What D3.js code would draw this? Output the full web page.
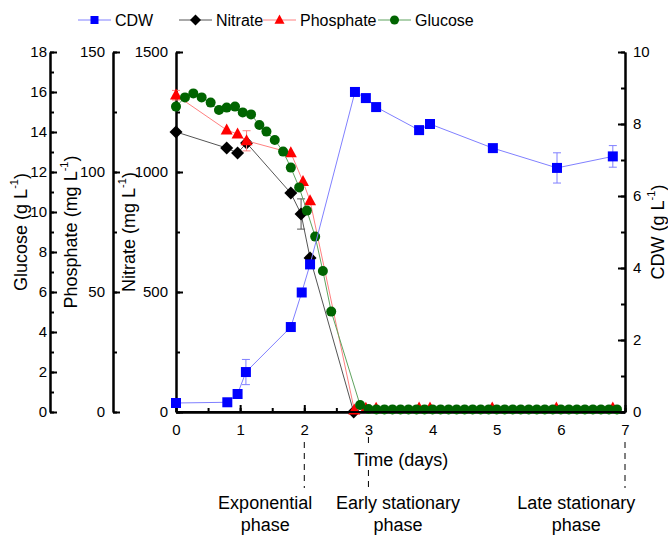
<!DOCTYPE html>
<html>
<head>
<meta charset="utf-8">
<script src="https://cdn.jsdelivr.net/npm/d3@7"></script>
<style>
  html, body { margin: 0; padding: 0; background: #fff; }
  svg { display: block; font-family: "Liberation Sans", Arial, sans-serif; }
</style>
</head>
<body>
<svg id="chart" width="668" height="536"></svg>
<script>
// ---------- DATA ----------
const cdwDays   = [0, 0.8, 0.96, 1.09, 1.79, 1.96, 2.09, 2.79, 2.96, 3.12, 3.79, 3.96, 4.94, 5.94, 6.81];
const cdwValues = [0.25, 0.27, 0.5, 1.11, 2.36, 3.32, 4.1, 8.89, 8.72, 8.47, 7.83, 8.0, 7.33, 6.78, 7.1];
const cdwErrors = [0.06, 0, 0, 0.35, 0.1, 0, 0, 0, 0.05, 0, 0, 0, 0, 0.42, 0.3];

const nitrateDays   = [0, 0.79, 0.96, 1.1, 1.79, 1.95, 2.09, 2.77];
const nitrateValues = [1167, 1100, 1079, 1121, 912, 825, 642, 0];
const nitrateErrors = [0, 0, 0, 0, 0, 63, 0, 0];

const phosphateDays   = [0, 0.79, 0.96, 1.1, 1.79, 1.98, 2.09, 2.78, 2.96, 3.12, 3.79, 3.96, 4.93, 5.93, 6.81];
const phosphateValues = [132, 117.5, 115.8, 113, 108, 96, 88, 0.8, 1.5, 1.5, 1.6, 1.6, 1.6, 1.6, 1.6];
const phosphateErrors = [2, 0, 0, 4.2, 0, 0, 0, 0, 0, 0, 0, 0, 0, 0, 0];

const glucoseDays = [0, 0.14, 0.27, 0.4, 0.54, 0.67, 0.79, 0.92, 1.04, 1.17, 1.3, 1.41, 1.54, 1.67, 1.79, 1.92, 2.04, 2.17, 2.29, 2.42,
  2.87, 3.0, 3.125, 3.25, 3.375, 3.5, 3.625, 3.75, 3.875, 4.0, 4.125, 4.25, 4.375, 4.5, 4.625, 4.75, 4.875,
  5.0, 5.125, 5.25, 5.375, 5.5, 5.625, 5.75, 5.875, 6.0, 6.125, 6.25, 6.375, 6.5, 6.625, 6.75, 6.875];
const glucoseValues = [15.27, 15.73, 15.93, 15.73, 15.47, 15.1, 15.22, 15.27, 14.98, 14.88, 14.35, 14.02, 13.6, 13.02, 12.22, 11.23, 10.07, 8.77, 7.05, 5.02,
  0.35, 0.15, 0.13, 0.13, 0.13, 0.13, 0.13, 0.13, 0.13, 0.13, 0.13, 0.13, 0.13, 0.13, 0.13, 0.13, 0.13,
  0.13, 0.13, 0.13, 0.13, 0.13, 0.13, 0.13, 0.13, 0.13, 0.13, 0.13, 0.13, 0.13, 0.13, 0.13, 0.13];

const xTicks = [0, 1, 2, 3, 4, 5, 6, 7];
const glucoseTicks = [0, 2, 4, 6, 8, 10, 12, 14, 16, 18];
const phosphateTicks = [0, 50, 100, 150];
const nitrateTicks = [0, 500, 1000, 1500];
const cdwTicks = [0, 2, 4, 6, 8, 10];

const phaseDays = [2, 3, 7];
const phaseLabels = [["Exponential", "phase"], ["Early stationary", "phase"], ["Late stationary", "phase"]];
const phaseLabelDays = [1.39, 3.46, 6.24];

// ---------- LAYOUT ----------
const svg = d3.select("#chart");
const yTop = 52, yBottom = 412;
const x = d3.scaleLinear().domain([0, 7]).range([176, 625]);
const yNit = d3.scaleLinear().domain([0, 1500]).range([yBottom, yTop]);
const yPho = d3.scaleLinear().domain([0, 150]).range([yBottom, yTop]);
const yGlu = d3.scaleLinear().domain([0, 18]).range([yBottom, yTop]);
const yCdw = d3.scaleLinear().domain([0, 10]).range([yBottom, yTop]);

const col = {
  cdw: "#0000ff", cdwLine: "#8080ff",
  nit: "#000000", nitLine: "#555555",
  pho: "#ff0000", phoLine: "#ff8080",
  glu: "#006400", gluLine: "#5fa35f"
};

function styleAxis(g, fontSize) {
  g.selectAll(".domain").attr("stroke", "#000").attr("stroke-width", 2);
  g.selectAll(".tick line").attr("stroke", "#000").attr("stroke-width", 2);
  g.selectAll(".tick text").attr("font-size", fontSize).attr("fill", "#000")
    .attr("font-family", "Liberation Sans, Arial, sans-serif");
}

function minorVals(scale, step) {
  const d = scale.domain(), out = [];
  for (let v = d[0]; v <= d[1] + 1e-9; v += step) out.push(+v.toFixed(6));
  return out;
}

function addAxis(tx, ty, axisFn, scale, majors, minorStep, padding) {
  const g = svg.append("g").attr("transform", `translate(${tx},${ty})`);
  const gMin = g.append("g");
  gMin.call(axisFn(scale).tickValues(minorVals(scale, minorStep)).tickSize(-4).tickSizeOuter(0).tickFormat(""));
  styleAxis(gMin, 15);
  const gMaj = g.append("g");
  gMaj.call(axisFn(scale).tickValues(majors).tickSize(-7).tickSizeOuter(0).tickPadding(padding).tickFormat(d3.format("d")));
  styleAxis(gMaj, 15);
  return g;
}

addAxis(50, 0, d3.axisLeft, yGlu, glucoseTicks, 1, 3);
addAxis(113, 0, d3.axisLeft, yPho, phosphateTicks, 25, 8);
addAxis(176, 0, d3.axisLeft, yNit, nitrateTicks, 250, 8);
addAxis(625, 0, d3.axisRight, yCdw, cdwTicks, 1, 8);
addAxis(0, yBottom, d3.axisBottom, x, xTicks, 0.5, 12);

// Axis titles
function yTitle(cx, cy, main, rot) {
  const t = svg.append("text")
    .attr("transform", `translate(${cx},${cy}) rotate(${rot})`)
    .attr("text-anchor", "middle").attr("dominant-baseline", "central")
    .attr("font-size", 18).attr("fill", "#000");
  t.append("tspan").text(main);
  t.append("tspan").attr("font-size", 11).attr("dy", -7).text("-1");
  t.append("tspan").attr("dy", 7).text(")");
}
yTitle(21, 232, "Glucose (g L", -90);
yTitle(71, 232, "Phosphate (mg L", -90);
yTitle(129, 232, "Nitrate (mg L", -90);
yTitle(658, 232, "CDW (g L", -90);

svg.append("text").attr("x", 401).attr("y", 466).attr("text-anchor", "middle")
  .attr("font-size", 18).attr("fill", "#000").text("Time (days)");

// Phase markers
phaseDays.forEach((d) => {
  const px = x(d);
  const segs = d === 3 ? [[437, 446], [470, 488]] : [[442, 488]];
  segs.forEach(s => svg.append("line").attr("x1", px).attr("x2", px).attr("y1", s[0]).attr("y2", s[1])
    .attr("stroke", "#000").attr("stroke-width", 1).attr("stroke-dasharray", "6,5"));
});
phaseLabels.forEach((lines, i) => {
  const t = svg.append("text").attr("text-anchor", "middle").attr("font-size", 18).attr("fill", "#000");
  lines.forEach((s, j) => {
    t.append("tspan").attr("x", x(phaseLabelDays[i])).attr("y", 509 + j * 22).text(s);
  });
});

// ---------- MARKERS ----------
function square(s) { return `M${-s/2},${-s/2}h${s}v${s}h${-s}Z`; }
function diamond(r) { return `M0,${-r}L${r},0L0,${r}L${-r},0Z`; }
function triangle(w) { const h = w * 0.92; return `M0,${-h*0.6}L${w/2},${h*0.4}L${-w/2},${h*0.4}Z`; }

function series(days, vals, errs, y, lineCol, markCol, pathFn, circleR) {
  const g = svg.append("g");
  const pts = days.map((d, i) => ({ x: x(d), y: y(vals[i]), e: errs ? errs[i] : 0, v: vals[i] }));
  g.append("path").datum(pts)
    .attr("d", d3.line().x(p => p.x).y(p => p.y))
    .attr("fill", "none").attr("stroke", lineCol).attr("stroke-width", 1);
  pts.filter(p => p.e > 0).forEach(p => {
    const y1 = y(p.v + p.e), y2 = y(p.v - p.e);
    g.append("line").attr("x1", p.x).attr("x2", p.x).attr("y1", y1).attr("y2", y2).attr("stroke", lineCol).attr("stroke-width", 1);
    [y1, y2].forEach(yy => g.append("line").attr("x1", p.x - 4).attr("x2", p.x + 4).attr("y1", yy).attr("y2", yy)
      .attr("stroke", lineCol).attr("stroke-width", 1));
  });
  if (circleR) {
    g.selectAll("circle").data(pts).join("circle")
      .attr("cx", p => p.x).attr("cy", p => p.y).attr("r", circleR).attr("fill", markCol);
  } else {
    g.selectAll("path.m").data(pts).join("path").attr("class", "m")
      .attr("transform", p => `translate(${p.x},${p.y})`).attr("d", pathFn).attr("fill", markCol);
  }
}

series(nitrateDays, nitrateValues, nitrateErrors, yNit, col.nitLine, col.nit, () => diamond(6.5));
series(phosphateDays, phosphateValues, phosphateErrors, yPho, col.phoLine, col.pho, () => triangle(12));
series(glucoseDays, glucoseValues, null, yGlu, col.gluLine, col.glu, null, 5);
series(cdwDays, cdwValues, cdwErrors, yCdw, col.cdwLine, col.cdw, () => square(10));

// redraw bottom axis line on top
svg.append("line").attr("x1", x(0)).attr("x2", x(7)).attr("y1", yBottom).attr("y2", yBottom)
  .attr("stroke", "#000").attr("stroke-width", 2);

// ---------- LEGEND ----------
const legend = [
  { name: "CDW", x0: 78, line: col.cdwLine, mark: col.cdw, shape: "square" },
  { name: "Nitrate", x0: 179, line: col.nitLine, mark: col.nit, shape: "diamond" },
  { name: "Phosphate", x0: 263, line: col.phoLine, mark: col.pho, shape: "triangle" },
  { name: "Glucose", x0: 378, line: col.gluLine, mark: col.glu, shape: "circle" }
];
const ly = 20;
legend.forEach(l => {
  const g = svg.append("g");
  g.append("line").attr("x1", l.x0).attr("x2", l.x0 + 33).attr("y1", ly).attr("y2", ly)
    .attr("stroke", l.line).attr("stroke-width", 1);
  const cx = l.x0 + 16.5;
  if (l.shape === "circle") {
    g.append("circle").attr("cx", cx).attr("cy", ly).attr("r", 4.5).attr("fill", l.mark);
  } else {
    const d = l.shape === "square" ? square(8) : l.shape === "diamond" ? diamond(5.5) : triangle(10);
    g.append("path").attr("transform", `translate(${cx},${ly})`).attr("d", d).attr("fill", l.mark);
  }
  g.append("text").attr("x", l.x0 + 37).attr("y", ly).attr("dominant-baseline", "central")
    .attr("font-size", 16).attr("fill", "#000").text(l.name);
});
</script>
</body>
</html>
